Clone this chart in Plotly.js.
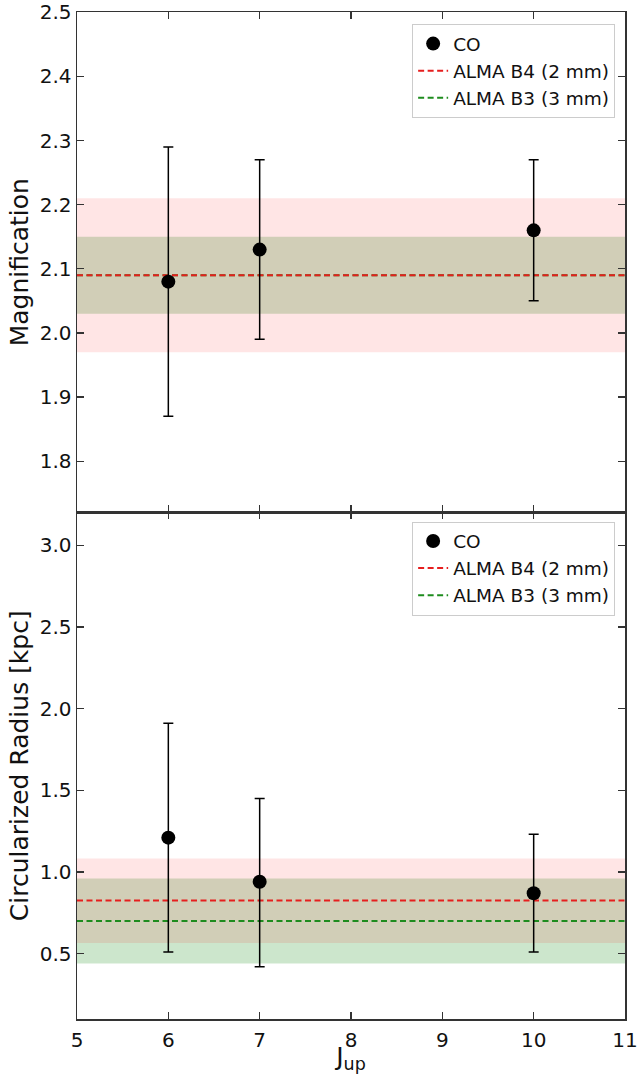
<!DOCTYPE html>
<html><head><meta charset="utf-8">
<script src="https://cdn.plot.ly/plotly-3.0.1.min.js"></script>
<style>body{margin:0;background:#fff}#chart{width:639px;height:1074px}</style>
</head><body><div id="chart"></div>
<script>
// Data
const jup = [6, 7, 10];
const magnification = [2.08, 2.13, 2.16];
const magErr = [0.21, 0.14, 0.11];
const radius = [1.21, 0.94, 0.87];
const radiusErrPlus = [0.70, 0.51, 0.36];
const radiusErrMinus = [0.70, 0.52, 0.36];
const xSpan = [5, 11];
const xTicks = [5, 6, 7, 8, 9, 10, 11];
const magTicks = [1.8, 1.9, 2.0, 2.1, 2.2, 2.3, 2.4, 2.5];
const radTicks = [0.5, 1.0, 1.5, 2.0, 2.5, 3.0];
// ALMA values: [value, low, high]
const magB4 = [2.09, 1.97, 2.21];
const magB3 = [2.09, 2.03, 2.15];
const radB4 = [0.825, 0.565, 1.083];
const radB3 = [0.70, 0.44, 0.96];

const RED = 'rgb(230,30,30)', GREEN = 'rgb(30,140,30)';
function band(v, xa, ya, col) {
  return {x:[xSpan[0], xSpan[1], xSpan[1], xSpan[0], xSpan[0]], y:[v[1], v[1], v[2], v[2], v[1]],
    xaxis:xa, yaxis:ya, type:'scatter', mode:'lines', fill:'toself', fillcolor:col,
    line:{width:0}, hoverinfo:'skip', showlegend:false};
}
function dline(v, xa, ya, col, name, leg) {
  return {x:xSpan, y:[v[0], v[0]], xaxis:xa, yaxis:ya, type:'scatter', mode:'lines',
    line:{color:col, width:2, dash:'6px,3.5px'}, name:name, legend:leg};
}
function pts(y, ep, em, xa, ya, leg) {
  return {x:jup, y:y, xaxis:xa, yaxis:ya, type:'scatter', mode:'markers', name:'CO', legend:leg,
    marker:{color:'black', size:14},
    error_y:{type:'data', symmetric:false, array:ep, arrayminus:em, color:'black', thickness:1.5, width:5}};
}
const traces = [
  band(magB3, 'x', 'y', 'rgba(0,128,0,0.2)'),
  band(magB4, 'x', 'y', 'rgba(255,0,0,0.1)'),
  dline(magB3, 'x', 'y', GREEN, 'ALMA B3 (3 mm)', 'legend'),
  dline(magB4, 'x', 'y', RED, 'ALMA B4 (2 mm)', 'legend'),
  pts(magnification, magErr, magErr, 'x', 'y', 'legend'),
  band(radB3, 'x2', 'y2', 'rgba(0,128,0,0.2)'),
  band(radB4, 'x2', 'y2', 'rgba(255,0,0,0.1)'),
  dline(radB3, 'x2', 'y2', GREEN, 'ALMA B3 (3 mm)', 'legend2'),
  dline(radB4, 'x2', 'y2', RED, 'ALMA B4 (2 mm)', 'legend2'),
  pts(radius, radiusErrPlus, radiusErrMinus, 'x2', 'y2', 'legend2')
];
const axC = '#333';
const titleFont = {family:'DejaVu Sans', size:25, color:'#111'};
const common = {showline:true, linecolor:axC, linewidth:1.5, mirror:'ticks', ticks:'inside',
  ticklen:7, tickwidth:1.3, tickcolor:axC, showgrid:false, zeroline:false,
  tickfont:{family:'DejaVu Sans', size:20, color:'#111'}};
const legCommon = {xanchor:'right', yanchor:'top', bgcolor:'white', bordercolor:'#ccc', borderwidth:1,
  font:{family:'DejaVu Sans', size:18.5, color:'#111'}, traceorder:'reversed', tracegroupgap:0};
const layout = {
  width:639, height:1074, margin:{l:77, r:14, t:12, b:55},
  paper_bgcolor:'white', plot_bgcolor:'white', showlegend:true,
  xaxis:Object.assign({}, common, {domain:[0,1], range:[5,11], anchor:'y', tickvals:xTicks, showticklabels:false, matches:'x2'}),
  yaxis:Object.assign({}, common, {domain:[0.503,1], range:[1.72,2.5005], anchor:'x', tickvals:magTicks, tickformat:'.1f',
    ticklabeloverflow:'allow',
    title:{text:'Magnification', font:titleFont, standoff:4}}),
  xaxis2:Object.assign({}, common, {domain:[0,1], range:[5,11], anchor:'y2', tickvals:xTicks, ticklabelstandoff:2,
    title:{text:'J<sub>up</sub>', font:titleFont, standoff:0}}),
  yaxis2:Object.assign({}, common, {domain:[0,0.503], range:[0.1,3.2], anchor:'x2', tickvals:radTicks, tickformat:'.1f',
    title:{text:'Circularized Radius [kpc]', font:titleFont, standoff:4}}),
  legend:Object.assign({}, legCommon, {x:0.982, y:0.988}),
  legend2:Object.assign({}, legCommon, {x:0.982, y:0.494})
};
Plotly.newPlot('chart', traces, layout, {displayModeBar:false, staticPlot:true});
</script></body></html>
